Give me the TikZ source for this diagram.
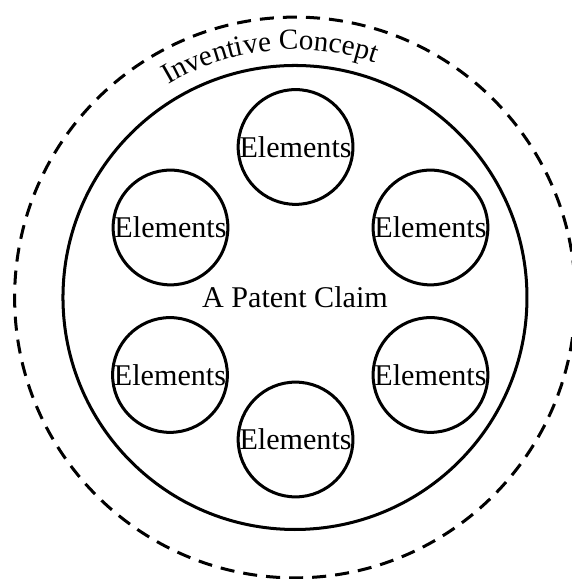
\documentclass[tikz,border=0pt]{standalone}
\usepackage{fontspec}
\setmainfont{Liberation Serif}
\usepackage{tikz}
\usetikzlibrary{decorations.text}

\begin{document}
\begin{tikzpicture}[
        elem/.style={draw=black, line width=1.5pt, circle, minimum size=2.01cm, inner sep=0pt, font=\fontsize{15}{18}\selectfont},
        ring/.style={draw=black, line width=1.5pt}]
        \useasboundingbox (-5.166, -4.930) rectangle (4.834, 5.210);
        \draw[ring, dash pattern=on 7pt off 4.5pt] (0, 0) circle (4.91);
        \draw[ring] (0, 0) circle (4.063);
        \path[decorate, decoration={text along path, text align=center,
            text={|\fontsize{14.5}{17}\selectfont|Inventive Concept}}] (156:4.34) arc (156:36:4.34);
        \node[font=\fontsize{15}{18}\selectfont] (claim) at (0, 0) {A Patent Claim};

        \node[elem] (elemT) at (0.01, 2.636) {Elements};
        \node[elem] (elemUL) at (-2.18, 1.226) {Elements};
        \node[elem] (elemUR) at (2.373, 1.226) {Elements};
        \node[elem] (elemLL) at (-2.189, -1.357) {Elements};
        \node[elem] (elemLR) at (2.373, -1.357) {Elements};
        \node[elem] (elemB) at (0.01, -2.487) {Elements};
    \end{tikzpicture}
\end{document}
